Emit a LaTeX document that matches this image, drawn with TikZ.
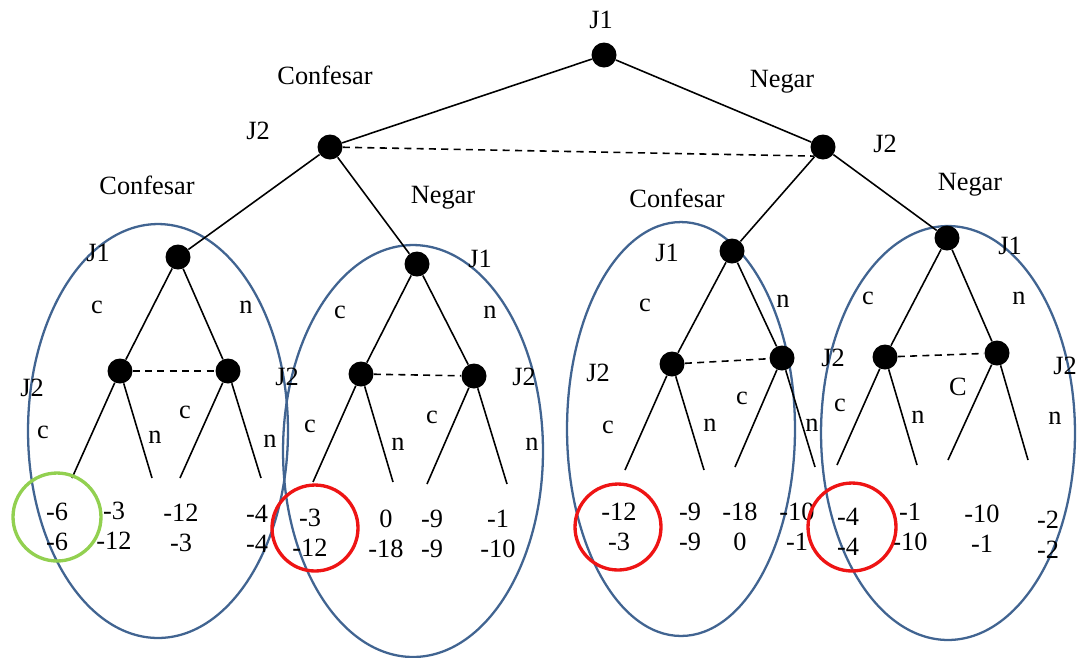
\documentclass[tikz,border=0pt]{standalone}
\usepackage{fontspec}
\setmainfont{Liberation Serif}
\usetikzlibrary{positioning}
\definecolor{setBlue}{RGB}{65,100,145}
\definecolor{nashRed}{RGB}{238,20,20}
\definecolor{eqGreen}{RGB}{146,208,80}

\begin{document}
\begin{tikzpicture}[x=0.02cm, y=-0.02cm,
    dot/.style={circle, fill=black, inner sep=0pt, minimum size=0.5cm},
    lbl/.style={inner sep=0pt, font=\fontsize{15}{17}\selectfont},
    pay/.style={inner sep=0pt, align=center, font=\fontsize{15}{17}\selectfont},
    branch/.style={black, line width=0.9pt},
    infoset/.style={black, line width=0.9pt, dash pattern=on 4pt off 3pt},
    conj/.style={setBlue, line width=1.3pt},
    nash/.style={nashRed, line width=1.9pt}]
    \useasboundingbox (0,0) rectangle (1077,657);
    % Subgames
    \draw[conj] (158,431) ellipse [x radius=2.6cm, y radius=4.14cm];
    \draw[conj] (413,451) ellipse [x radius=2.6cm, y radius=4.12cm];
    \draw[conj] (681,429) ellipse [x radius=2.28cm, y radius=4.14cm];
    \draw[conj] (948,433) ellipse [x radius=2.54cm, y radius=4.14cm];
    % Decision nodes
    \node[dot] (r) at (604,55) {};
    \node[dot] (p) at (330,147) {};
    \node[dot] (q) at (823,147) {};
    \node[dot] (a) at (178,257) {};
    \node[dot] (b) at (417,264) {};
    \node[dot] (c) at (732,251) {};
    \node[dot] (d) at (947,238) {};
    \node[dot] (a1) at (120,371) {};
    \node[dot] (a2) at (228,371) {};
    \node[dot] (b1) at (361,374) {};
    \node[dot] (b2) at (474,376) {};
    \node[dot] (c1) at (672,364) {};
    \node[dot] (c2) at (782,358) {};
    \node[dot] (d1) at (885,357) {};
    \node[dot] (d2) at (997,353) {};
    % Leaf ends
    \coordinate (a1c) at (72,478);  \coordinate (a1n) at (152,478);
    \coordinate (a2c) at (180,478); \coordinate (a2n) at (261,478);
    \coordinate (b1c) at (313,482); \coordinate (b1n) at (393,482);
    \coordinate (b2c) at (427,484); \coordinate (b2n) at (507,484);
    \coordinate (c1c) at (625,470); \coordinate (c1n) at (704,470);
    \coordinate (c2c) at (735,467); \coordinate (c2n) at (815,467);
    \coordinate (d1c) at (837,465); \coordinate (d1n) at (917,465);
    \coordinate (d2c) at (948,460); \coordinate (d2n) at (1028,460);
    % Branches
    \draw[branch] (r) -- (p);  \draw[branch] (r) -- (q);
    \draw[branch] (p) -- (a);  \draw[branch] (p) -- (b);
    \draw[branch] (q) -- (c);  \draw[branch] (q) -- (d);
    \draw[branch] (a) -- (a1); \draw[branch] (a) -- (a2);
    \draw[branch] (b) -- (b1); \draw[branch] (b) -- (b2);
    \draw[branch] (c) -- (c1); \draw[branch] (c) -- (c2);
    \draw[branch] (d) -- (d1); \draw[branch] (d) -- (d2);
    \draw[branch] (a1) -- (a1c); \draw[branch] (a1) -- (a1n);
    \draw[branch] (a2) -- (a2c); \draw[branch] (a2) -- (a2n);
    \draw[branch] (b1) -- (b1c); \draw[branch] (b1) -- (b1n);
    \draw[branch] (b2) -- (b2c); \draw[branch] (b2) -- (b2n);
    \draw[branch] (c1) -- (c1c); \draw[branch] (c1) -- (c1n);
    \draw[branch] (c2) -- (c2c); \draw[branch] (c2) -- (c2n);
    \draw[branch] (d1) -- (d1c); \draw[branch] (d1) -- (d1n);
    \draw[branch] (d2) -- (d2c); \draw[branch] (d2) -- (d2n);
    % Information sets
    \draw[infoset] (p) -- (q.south west);
    \draw[infoset] (a1) -- (a2);
    \draw[infoset] (b1) -- (b2);
    \draw[infoset] (c1) -- (c2);
    \draw[infoset] (d1) -- (d2);
    % Players
    \node[lbl] (rJ) at (601,20) {J1};
    \node[lbl] (pJ) at (258,131) {J2};
    \node[lbl] (qJ) at (885,144) {J2};
    \node[lbl] (aJ) at (98,253) {J1};
    \node[lbl] (bJ) at (480,259) {J1};
    \node[lbl] (cJ) at (667,253) {J1};
    \node[lbl] (dJ) at (1010,246) {J1};
    \node[lbl] (a1J) at (32,388) {J2};
    \node[lbl] (a2J) at (287,377) {J2};
    \node[lbl] (b2J) at (524,377) {J2};
    \node[lbl] (c1J) at (598,373) {J2};
    \node[lbl] (c2J) at (833,358) {J2};
    \node[lbl] (d2J) at (1065,366) {J2};
    % Actions
    \node[lbl] (rC) at (325,75) {Confesar};
    \node[lbl] (rN) at (782,82) {Negar};
    \node[lbl] (pC) at (147,185) {Confesar};
    \node[lbl] (pN) at (443,198) {Negar};
    \node[lbl] (qC) at (677,198) {Confesar};
    \node[lbl] (qN) at (970,185) {Negar};
    \node[lbl] (ac) at (97,307) {c};   \node[lbl] (an) at (246,307) {n};
    \node[lbl] (bc) at (340,312) {c};  \node[lbl] (bn) at (490,312) {n};
    \node[lbl] (cc) at (645,305) {c};  \node[lbl] (cn) at (783,301) {n};
    \node[lbl] (dc) at (868,298) {c};  \node[lbl] (dn) at (1019,298) {n};
    \node[lbl] (a1cl) at (43,432) {c};  \node[lbl] (a1nl) at (155,437) {n};
    \node[lbl] (a2cl) at (185,412) {c}; \node[lbl] (a2nl) at (270,441) {n};
    \node[lbl] (b1cl) at (310,426) {c}; \node[lbl] (b1nl) at (398,444) {n};
    \node[lbl] (b2cl) at (432,417) {c}; \node[lbl] (b2nl) at (532,444) {n};
    \node[lbl] (c1cl) at (608,427) {c}; \node[lbl] (c1nl) at (710,425) {n};
    \node[lbl] (c2cl) at (742,398) {c}; \node[lbl] (c2nl) at (812,425) {n};
    \node[lbl] (d1cl) at (840,405) {c}; \node[lbl] (d1nl) at (918,417) {n};
    \node[lbl] (d2cl) at (958,387) {C}; \node[lbl] (d2nl) at (1055,418) {n};
    % Payoffs
    \node[pay] (v1) at (57,527) {-6\\-6};
    \node[pay] (v2) at (114,526) {-3\\-12};
    \node[pay] (v3) at (181,528) {-12\\-3};
    \node[pay] (v4) at (257,529) {-4\\-4};
    \node[pay] (v5) at (310,533) {-3\\-12};
    \node[pay] (v6) at (386,534) {0\\-18};
    \node[pay] (v7) at (432,534) {-9\\-9};
    \node[pay] (v8) at (498,534) {-1\\-10};
    \node[pay] (v9) at (619,527) {-12\\-3};
    \node[pay] (v10) at (690,527) {-9\\-9};
    \node[pay] (v11) at (740,527) {-18\\0};
    \node[pay] (v12) at (797,527) {-10\\-1};
    \node[pay] (v13) at (848,532) {-4\\-4};
    \node[pay] (v14) at (910,527) {-1\\-10};
    \node[pay] (v15) at (982,529) {-10\\-1};
    \node[pay] (v16) at (1048,535) {-2\\-2};
    % Equilibria
    \draw[eqGreen, line width=1.9pt] (57,517) circle [radius=0.88cm];
    \draw[nash] (315,528) circle [radius=0.86cm];
    \draw[nash] (618,527) circle [radius=0.86cm];
    \draw[nash] (852,527) circle [radius=0.88cm];
\end{tikzpicture}
\end{document}
